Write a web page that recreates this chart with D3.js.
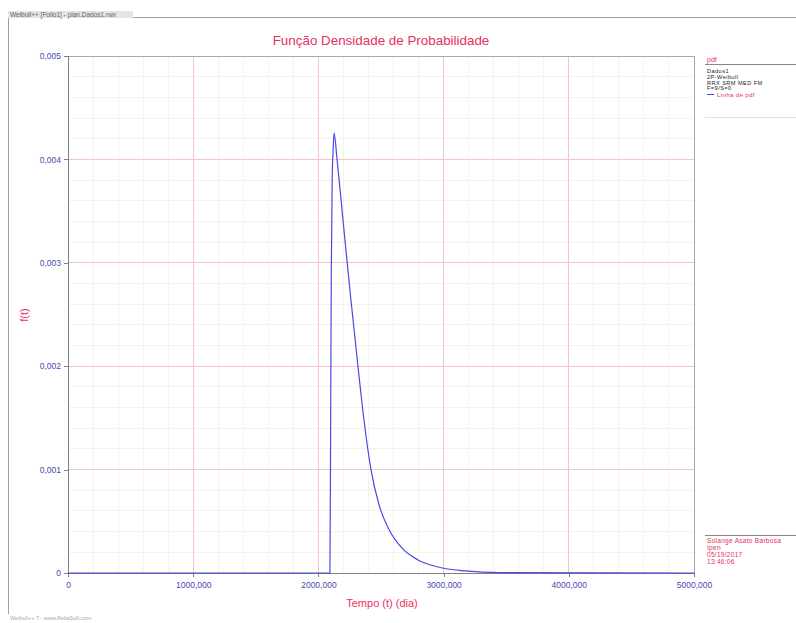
<!DOCTYPE html>
<html>
<head>
<meta charset="utf-8">
<script src="https://cdn.jsdelivr.net/npm/d3@7"></script>
<style>
  body { margin: 0; background: #fff; }
  text { font-family: "Liberation Sans", Arial, sans-serif; }
</style>
</head>
<body>
<script>
const width = 796,
      height = 623;

// tick values
const xTicks = [0, 1000, 2000, 3000, 4000, 5000];
const yTicks = [0, 0.001, 0.002, 0.003, 0.004, 0.005];

// pdf curve (t in days, f(t))
const tValues = [0, 2092, 2098, 2103, 2110, 2118, 2125, 2149, 2181, 2220, 2260, 2316, 2364, 2420, 2484, 2564, 2668, 2796, 2955, 3171, 3450, 5000];
const fValues = [0, 0, 0.0015, 0.0029, 0.0038, 0.0041, 0.004255, 0.0040, 0.00361, 0.00312, 0.00264, 0.0020, 0.00148, 0.0010, 0.00066, 0.00042, 0.00024, 0.000126, 0.000058, 0.00002, 0.000003, 0];

const legendTop = ["Dados1", "2P-Weibull", "RRX SRM MED FM", "F=9/S=0"];
const legendBottom = ["Solange Asato Barbosa", "Ipen", "05/19/2017", "13:46:06"];

const red = "#e8305c",
      blue = "#4a4ab0";

const margin = {top: 56, right: 102, bottom: 50, left: 68};

const svg = d3.select("body")
    .append("svg")
    .attr("width", width)
    .attr("height", height)
    .attr("shape-rendering", "crispEdges");

const x = d3.scaleLinear()
    .domain([0, 5000])
    .range([margin.left, width - margin.right]);

const y = d3.scaleLinear()
    .domain([0, 0.005])
    .range([height - margin.bottom, margin.top]);

// window frame
svg.append("line")
    .attr("x1", 8).attr("x2", 8)
    .attr("y1", 12).attr("y2", 614)
    .attr("stroke", "#a0a0a0");
svg.append("line")
    .attr("x1", 133).attr("x2", width)
    .attr("y1", 17).attr("y2", 17)
    .attr("stroke", "#a0a0a0");
svg.append("rect")
    .attr("x", 8).attr("y", 11)
    .attr("width", 125).attr("height", 7)
    .attr("fill", "#e4e4e4");
svg.append("text")
    .attr("x", 10).attr("y", 17)
    .attr("font-size", 6.5)
    .attr("fill", "#666")
    .text("Weibull++ [Folio1] - plan.Dados1.rwx");

// minor grid
const minorX = d3.range(0, 5001, 200).filter(d => d % 1000 !== 0);
const minorY = d3.range(0, 26).map(i => i * 0.0002).filter((d, i) => i % 5 !== 0);

svg.append("g")
    .selectAll("line")
    .data(minorX)
    .enter().append("line")
    .attr("x1", d => x(d)).attr("x2", d => x(d))
    .attr("y1", y(0)).attr("y2", y(0.005))
    .attr("stroke", "#f2f5e8");

svg.append("g")
    .selectAll("line")
    .data(minorY)
    .enter().append("line")
    .attr("x1", x(0)).attr("x2", x(5000))
    .attr("y1", d => y(d)).attr("y2", d => y(d))
    .attr("stroke", "#f2f5e8");

// major grid
svg.append("g")
    .selectAll("line")
    .data(xTicks.slice(1, -1))
    .enter().append("line")
    .attr("x1", d => x(d)).attr("x2", d => x(d))
    .attr("y1", y(0)).attr("y2", y(0.005))
    .attr("stroke", "#f6c4c4");

svg.append("g")
    .selectAll("line")
    .data(yTicks.slice(1, -1))
    .enter().append("line")
    .attr("x1", x(0)).attr("x2", x(5000))
    .attr("y1", d => y(d)).attr("y2", d => y(d))
    .attr("stroke", "#f6c4c4");

// plot frame
svg.append("rect")
    .attr("x", x(0)).attr("y", y(0.005))
    .attr("width", x(5000) - x(0))
    .attr("height", y(0) - y(0.005))
    .attr("fill", "none")
    .attr("stroke", "#a8a8a8");

const fmt = d => d === 0 ? "0" : d3.format(".3f")(d).replace(".", ",");

const xAxis = svg.append("g")
    .attr("transform", `translate(0,${y(0)})`)
    .call(d3.axisBottom(x).tickValues(xTicks).tickSize(4).tickFormat(fmt));

const yAxis = svg.append("g")
    .attr("transform", `translate(${x(0)},0)`)
    .call(d3.axisLeft(y).tickValues(yTicks).tickSize(4).tickFormat(fmt));

[xAxis, yAxis].forEach(a => {
  a.select(".domain").attr("stroke", "#808080");
  a.selectAll(".tick line").attr("stroke", "#808080");
  a.selectAll(".tick text")
      .attr("fill", blue)
      .attr("font-size", 8.5)
      .attr("font-family", "Liberation Sans, Arial, sans-serif");
});
xAxis.selectAll(".tick text").attr("dy", "0.9em");

// curve
const line = d3.line()
    .x((d, i) => x(tValues[i]))
    .y(d => y(d))
    .curve(d3.curveMonotoneX);

svg.append("path")
    .datum(fValues)
    .attr("fill", "none")
    .attr("stroke", "#4848e8")
    .attr("stroke-width", 1.2)
    .attr("shape-rendering", "auto")
    .attr("d", line);

// titles
svg.append("text")
    .attr("x", 381).attr("y", 45)
    .attr("text-anchor", "middle")
    .attr("font-size", 13.4)
    .attr("fill", red)
    .text("Função Densidade de Probabilidade");

svg.append("text")
    .attr("x", 382).attr("y", 607)
    .attr("text-anchor", "middle")
    .attr("font-size", 11)
    .attr("fill", red)
    .text("Tempo (t) (dia)");

svg.append("text")
    .attr("transform", "translate(28,315) rotate(-90)")
    .attr("text-anchor", "middle")
    .attr("font-size", 11)
    .attr("fill", red)
    .text("f(t)");

// legend, top box
const lg = svg.append("g");
lg.append("line")
    .attr("x1", 705).attr("x2", width)
    .attr("y1", 64).attr("y2", 64)
    .attr("stroke", "#888");
lg.append("line")
    .attr("x1", 705).attr("x2", width)
    .attr("y1", 117).attr("y2", 117)
    .attr("stroke", "#e0e0e0");
lg.append("text")
    .attr("x", 707).attr("y", 62)
    .attr("font-size", 7)
    .attr("fill", red)
    .text("pdf");
lg.selectAll("text.item")
    .data(legendTop)
    .enter().append("text")
    .attr("class", "item")
    .attr("x", 707)
    .attr("y", (d, i) => 73 + i * 5.8)
    .attr("font-size", 5.6)
    .attr("letter-spacing", 0.45)
    .attr("fill", "#222")
    .text(d => d);
lg.append("line")
    .attr("x1", 707).attr("x2", 714)
    .attr("y1", 94).attr("y2", 94)
    .attr("stroke", "#4848e8");
lg.append("text")
    .attr("x", 717).attr("y", 96.5)
    .attr("font-size", 6.2)
    .attr("letter-spacing", 0.3)
    .attr("fill", red)
    .text("Linha de pdf");

// legend, bottom box
lg.append("line")
    .attr("x1", 705).attr("x2", width)
    .attr("y1", 535).attr("y2", 535)
    .attr("stroke", "#888");
lg.selectAll("text.info")
    .data(legendBottom)
    .enter().append("text")
    .attr("class", "info")
    .attr("x", 707)
    .attr("y", (d, i) => 543 + i * 6.9)
    .attr("font-size", 6.6)
    .attr("letter-spacing", 0.25)
    .attr("fill", red)
    .text(d => d);

// footer
svg.append("text")
    .attr("x", 10).attr("y", 620)
    .attr("font-size", 5.5)
    .attr("fill", "#aaa")
    .text("Weibull++ 7 - www.ReliaSoft.com");
</script>
</body>
</html>
